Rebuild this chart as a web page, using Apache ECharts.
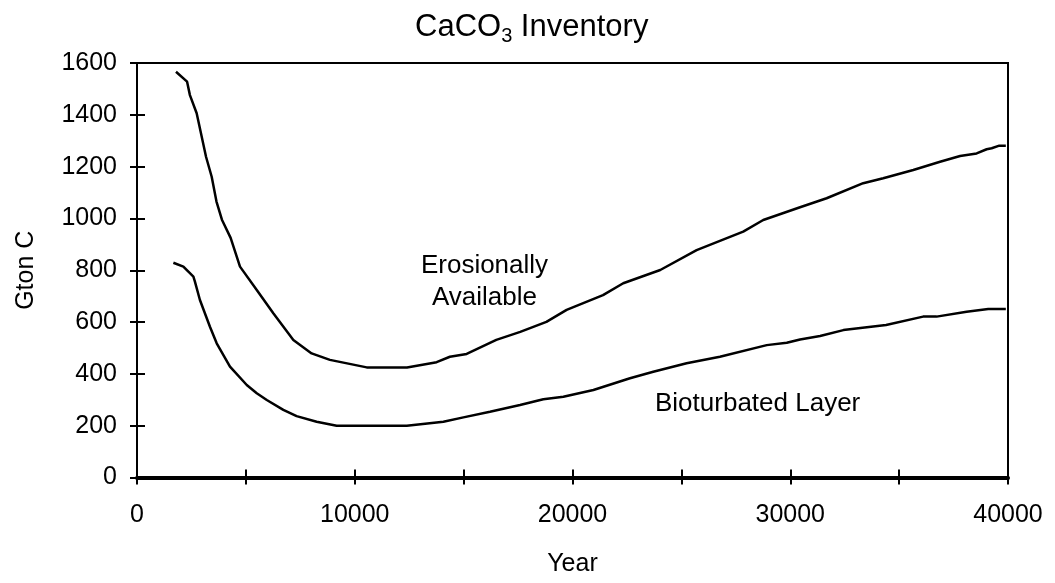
<!DOCTYPE html>
<html>
<head>
<meta charset="utf-8">
<title>CaCO3 Inventory</title>
<script src="https://cdn.jsdelivr.net/npm/echarts@6/dist/echarts.min.js"></script>
<style>
  html, body { margin: 0; padding: 0; background: #fff; }
  #chart { width: 1055px; height: 583px; }
</style>
</head>
<body>
<div id="chart"></div>
<script>
// erosionally available inventory (upper curve)
var eroYears = [1790, 2300, 2430, 2740, 3170, 3430, 3650, 3900, 4300, 4730, 5500, 6260, 7180, 8020, 8860,
  10550, 12400, 13760, 14370, 15140, 16500, 17600, 18800, 19730, 21400, 22330, 24030, 25700, 27840,
  28760, 30450, 31670, 33350, 34270, 35650, 36880, 37800, 38560, 39020, 39250, 39600, 39900];
var eroValues = [1566, 1528, 1476, 1406, 1238, 1161, 1065, 995, 925, 814, 724, 634, 531, 479, 454,
  425, 425, 445, 466, 477, 531, 562, 601, 647, 704, 750, 801, 878, 949,
  994, 1043, 1078, 1136, 1155, 1187, 1219, 1241, 1251, 1267, 1271, 1281, 1281];

// bioturbated layer (lower curve)
var bioYears = [1670, 2130, 2590, 2660, 2890, 3350, 3660, 4270, 5040, 5500, 5960, 6720, 7330, 8250, 9170,
  12390, 14070, 14990, 16210, 17590, 18660, 19580, 20960, 22640, 23710, 25240, 26770, 28920, 29840,
  30450, 31370, 32440, 34400, 36100, 36720, 38100, 39090, 39900];
var bioValues = [829, 814, 775, 756, 685, 582, 518, 428, 357, 325, 299, 261, 237, 215, 200,
  200, 215, 232, 254, 280, 302, 312, 338, 383, 408, 441, 466, 511, 520,
  533, 546, 569, 589, 621, 621, 640, 650, 650];

var xTicks = [0, 10000, 20000, 30000, 40000];
var yTicks = [0, 200, 400, 600, 800, 1000, 1200, 1400, 1600];

var FONT = "'Liberation Sans', Arial, sans-serif";

function pairs(xs, ys) {
  return xs.map(function (x, i) { return [x, ys[i]]; });
}

var chart = echarts.init(document.getElementById("chart"));

var option = {
  backgroundColor: "#fff",
  animation: false,
  title: {
    text: "{a|CaCO}{b|3}{a| Inventory}",
    left: 415,
    top: 8,
    padding: 0,
    textStyle: {
      fontWeight: "normal",
      rich: {
        a: { fontFamily: FONT, fontSize: 31, fontWeight: "normal", color: "#000" },
        b: { fontFamily: FONT, fontSize: 20, fontWeight: "normal", color: "#000", padding: [18, 0, 0, 0] }
      }
    }
  },
  grid: {
    left: 137,
    right: 47,
    top: 63,
    bottom: 105.5,
    show: true,
    borderColor: "#000",
    borderWidth: 2
  },
  xAxis: [
    {
      type: "value",
      min: 0,
      max: 40000,
      interval: 5000,
      name: "Year",
      nameLocation: "middle",
      nameGap: 74,
      nameTextStyle: { fontFamily: FONT, fontSize: 25, color: "#000" },
      axisLine: { show: true, lineStyle: { color: "#000", width: 4 } },
      axisTick: { show: true, length: 7, lineStyle: { color: "#000", width: 2 } },
      axisLabel: {
        fontFamily: FONT,
        fontSize: 25,
        color: "#000",
        margin: 25,
        showMinLabel: true,
        showMaxLabel: true,
        formatter: function (v) { return xTicks.indexOf(v) >= 0 ? String(v) : ""; }
      },
      splitLine: { show: false }
    },
    {
      // inner half of the crossing ticks
      type: "value",
      position: "bottom",
      min: 0,
      max: 40000,
      interval: 5000,
      axisLine: { show: false },
      axisTick: { show: true, inside: true, length: 8, lineStyle: { color: "#000", width: 2 } },
      axisLabel: { show: false },
      splitLine: { show: false }
    }
  ],
  yAxis: [
    {
      type: "value",
      min: 0,
      max: 1600,
      interval: 200,
      name: "Gton C",
      nameLocation: "middle",
      nameGap: 98,
      nameTextStyle: { fontFamily: FONT, fontSize: 25, color: "#000" },
      axisLine: { show: true, lineStyle: { color: "#000", width: 2 } },
      axisTick: { show: true, length: 7, lineStyle: { color: "#000", width: 2 } },
      axisLabel: {
        fontFamily: FONT,
        fontSize: 25,
        color: "#000",
        margin: 20,
        formatter: function (v) { return yTicks.indexOf(v) >= 0 ? String(v) : ""; }
      },
      splitLine: { show: false }
    },
    {
      type: "value",
      position: "left",
      min: 0,
      max: 1600,
      interval: 200,
      axisLine: { show: false },
      axisTick: { show: true, inside: true, length: 8, lineStyle: { color: "#000", width: 2 } },
      axisLabel: { show: false },
      splitLine: { show: false }
    }
  ],
  graphic: [
    {
      type: "text",
      x: 484.5,
      y: 250,
      style: {
        text: "Erosionally\nAvailable",
        fontFamily: FONT,
        fontSize: 26,
        lineHeight: 32,
        fill: "#000",
        align: "center",
        verticalAlign: "top"
      }
    },
    {
      type: "text",
      x: 655,
      y: 391,
      style: {
        text: "Bioturbated Layer",
        fontFamily: FONT,
        fontSize: 26,
        lineHeight: 26,
        fill: "#000",
        align: "left",
        verticalAlign: "top"
      }
    }
  ],
  series: [
    {
      name: "Erosionally Available",
      type: "line",
      data: pairs(eroYears, eroValues),
      showSymbol: false,
      lineStyle: { color: "#000", width: 2.5 }
    },
    {
      name: "Bioturbated Layer",
      type: "line",
      data: pairs(bioYears, bioValues),
      showSymbol: false,
      lineStyle: { color: "#000", width: 2.5 }
    }
  ]
};

chart.setOption(option);
</script>
</body>
</html>
